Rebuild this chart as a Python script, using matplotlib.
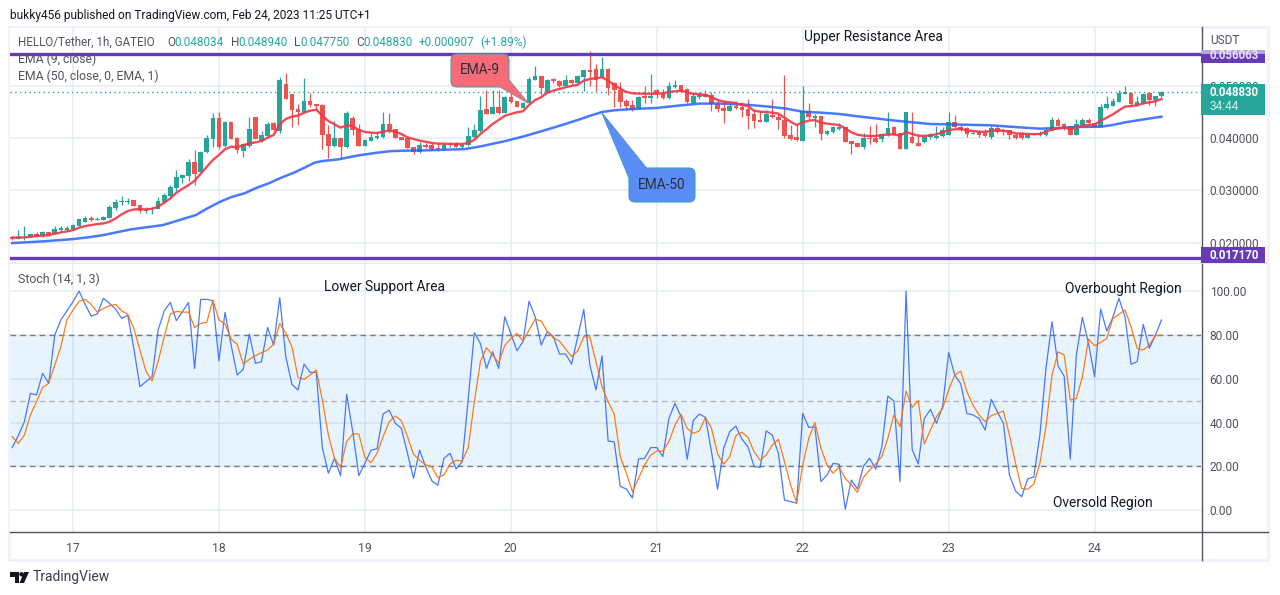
import numpy as np
import matplotlib
matplotlib.use("Agg")
import matplotlib.pyplot as plt
from matplotlib.patches import Rectangle, Polygon, FancyBboxPatch, Circle

plt.rcParams['font.family'] = ['Roboto', 'DejaVu Sans']

W, H = 1280, 595
hours = np.arange(-10, 180)
day_ticks = [0, 24, 48, 72, 96, 120, 144, 168]
day_labels = ['17', '18', '19', '20', '21', '22', '23', '24']

opens = [21.01,20.76,20.82,21.14,21.59,21.39,22.03,21.78,22.48,22.41,
 22.54,23.18,23.94,24.71,24.39,24.39,24.71,26.62,27.70,27.76,
 28.15,27.13,25.98,26.36,26.49,27.76,28.91,30.44,32.35,32.80,
 35.41,33.50,37.27,39.82,43.77,38.48,43.07,39.95,37.53,38.48,
 44.02,39.44,40.39,42.88,41.35,50.33,48.42,45.55,44.98,47.08,
 46.51,46.32,40.78,38.48,40.01,38.29,43.83,41.73,38.48,39.44,
 39.95,40.14,42.69,41.67,40.14,40.01,38.23,37.34,38.68,38.68,
 38.10,37.85,38.68,39.06,38.30,38.68,40.14,41.35,45.49,44.66,
 45.94,44.86,47.85,47.02,45.75,46.64,51.10,51.86,48.80,51.35,
 50.84,49.95,51.10,50.52,51.67,53.01,53.20,51.67,53.20,50.52,
 49.19,47.08,46.32,45.56,48.04,47.66,49.19,48.42,47.66,49.76,
 50.14,49.38,46.70,47.85,48.42,48.23,46.51,45.75,45.17,46.13,
 45.93,45.55,44.59,43.45,43.06,44.40,44.02,43.45,40.58,40.20,
 39.43,45.17,43.89,44.21,40.77,41.15,41.73,42.11,39.43,39.05,
 38.29,40.01,40.01,39.82,40.58,42.11,40.96,37.90,40.20,39.05,
 39.24,40.26,39.94,40.39,40.58,43.06,42.11,41.92,40.84,41.15,
 40.96,40.20,41.92,41.34,41.54,40.58,40.96,40.01,40.58,40.52,
 40.58,41.34,43.45,42.68,42.30,40.58,42.49,43.45,42.87,42.11,
 45.74,46.12,46.89,48.42,48.61,46.31,46.70,48.61,47.27,48.03]
highs = [21.27,22.41,23.18,21.90,22.03,22.22,22.03,23.18,23.24,23.18,
 23.50,24.50,25.09,25.09,24.96,25.09,27.19,28.27,28.91,28.59,
 28.15,27.13,26.74,26.74,28.78,29.55,31.08,33.88,33.11,35.98,
 37.72,37.59,40.58,44.79,44.92,43.26,43.26,40.20,38.99,44.02,
 44.02,41.35,43.13,43.00,51.67,52.43,48.42,46.51,51.48,48.61,
 46.51,46.51,42.49,43.26,40.01,45.17,44.21,42.69,39.75,40.90,
 41.22,44.98,44.73,41.80,40.14,40.01,38.23,39.31,39.12,38.99,
 39.31,39.12,39.31,39.19,39.12,42.18,42.69,48.04,49.19,49.19,
 49.19,48.04,48.87,47.02,46.80,51.73,53.77,51.86,51.29,51.48,
 51.10,52.05,51.29,52.05,53.01,56.64,54.15,55.49,53.39,50.72,
 50.72,47.47,47.28,48.04,49.95,52.24,49.38,49.38,50.72,51.10,
 50.14,49.57,48.80,48.80,49.19,48.80,47.28,47.28,46.64,47.15,
 46.89,47.46,45.36,45.23,45.36,47.46,44.59,52.04,42.49,42.49,
 49.94,46.69,44.59,44.21,41.54,42.30,42.87,42.11,39.43,39.24,
 40.90,42.30,42.68,40.77,44.97,42.30,40.96,44.97,44.97,40.77,
 40.77,40.90,42.30,42.11,44.98,44.40,42.49,42.11,41.54,41.54,
 41.73,42.30,42.30,41.73,41.54,40.96,41.15,40.96,40.84,41.34,
 42.11,44.02,43.83,42.87,42.30,43.64,43.83,43.83,42.87,46.50,
 48.03,47.65,49.18,49.94,48.80,48.03,48.61,48.61,48.03,48.94]
lows = [20.50,20.63,20.50,21.01,21.01,21.14,21.27,21.65,22.22,22.29,
 22.41,23.10,23.88,24.20,24.32,24.26,24.64,26.23,27.25,27.32,
 27.06,25.73,25.73,25.47,26.36,27.64,28.78,29.93,31.46,31.84,
 31.01,33.30,37.08,38.36,37.91,38.36,39.82,37.08,36.38,38.36,
 39.82,39.31,40.27,41.41,40.97,47.46,42.11,42.49,44.72,46.00,
 45.36,37.91,36.13,38.23,36.13,38.04,40.58,38.48,38.40,39.37,
 39.76,39.95,40.91,40.01,39.63,38.10,36.96,37.21,38.04,37.72,
 37.59,37.72,38.36,38.23,38.10,38.49,40.01,41.23,44.54,44.54,
 44.60,44.73,46.64,45.87,45.70,46.51,51.10,48.23,48.68,50.59,
 49.70,49.95,50.33,50.46,49.06,49.95,48.93,51.48,48.23,45.94,
 45.94,45.36,45.24,45.49,46.77,46.77,47.66,47.40,47.53,49.50,
 48.87,46.70,46.64,47.47,47.79,45.17,44.98,42.88,45.11,45.62,
 44.08,41.73,41.92,43.00,43.00,43.89,41.73,40.01,39.62,39.50,
 39.43,43.64,42.11,39.62,40.58,40.96,41.60,39.24,36.95,38.29,
 37.90,38.86,39.11,39.24,40.39,40.52,37.90,37.90,38.99,38.48,
 39.05,39.90,39.82,40.26,40.52,41.98,41.35,40.20,40.77,40.20,
 40.20,39.82,40.96,40.58,39.82,39.82,39.82,39.94,40.52,40.45,
 40.45,41.28,42.24,41.54,40.58,40.52,42.36,42.68,42.11,42.11,
 45.55,46.06,46.82,48.42,46.19,46.19,46.57,46.31,46.12,47.75]
closes = [20.76,21.01,20.89,21.65,21.27,22.03,21.39,22.60,22.86,22.86,
 23.37,24.45,24.71,24.32,24.52,24.90,26.81,27.76,27.95,27.95,
 27.06,25.98,26.36,26.49,27.95,29.10,30.63,32.54,32.92,35.41,
 33.11,37.34,40.01,43.77,38.36,43.07,39.82,37.78,38.80,41.73,
 39.82,40.58,42.75,41.54,51.09,47.46,45.42,44.98,47.08,46.32,
 46.19,40.58,38.48,40.01,38.29,44.79,41.54,38.48,39.63,40.20,
 40.39,42.69,41.54,40.01,39.63,38.10,37.34,38.68,38.30,37.85,
 37.85,38.87,38.87,38.36,38.68,40.40,41.54,45.36,44.66,45.94,
 44.79,47.85,46.89,45.87,46.70,51.29,51.86,49.51,51.10,50.91,
 49.95,51.10,50.46,51.86,53.01,52.63,51.10,53.20,49.57,49.19,
 46.89,46.13,45.36,47.85,47.66,48.04,48.42,47.66,49.95,50.14,
 48.99,46.89,48.04,48.23,47.91,46.51,45.56,45.17,46.13,45.75,
 45.36,44.21,43.25,43.06,44.59,44.02,43.45,40.39,39.82,39.62,
 45.17,44.02,44.21,40.77,41.34,42.11,42.11,39.24,38.86,38.29,
 40.01,39.82,39.24,40.77,41.92,40.58,37.90,44.97,39.05,38.48,
 40.20,40.77,40.39,41.54,43.06,42.11,41.54,40.77,40.96,40.58,
 40.39,41.92,41.15,41.15,40.58,40.01,40.01,40.58,40.77,40.77,
 41.54,43.45,42.30,41.98,40.58,42.68,43.45,42.87,42.11,45.93,
 46.50,47.08,48.61,48.80,46.50,46.89,48.42,47.27,48.03,48.83]

ema9 = [20.95,21.01,21.01,21.14,21.27,21.33,21.46,21.71,21.97,22.16,
 22.41,22.86,23.18,23.37,23.56,23.69,24.01,24.64,25.41,26.04,
 26.36,26.43,26.36,26.49,26.87,27.64,28.46,29.55,30.31,31.01,
 31.84,33.20,34.50,35.80,36.76,37.85,38.36,38.23,38.61,38.99,
 39.18,39.44,40.07,40.58,42.62,43.64,44.09,44.28,44.85,45.23,
 45.42,44.28,43.26,42.62,41.99,42.43,42.30,41.54,41.16,41.03,
 40.97,41.22,41.42,41.22,40.78,40.14,39.82,39.50,39.30,39.06,
 38.93,38.93,38.87,38.87,38.87,39.06,39.63,40.78,41.67,42.69,
 43.45,44.22,44.60,44.92,45.11,46.32,47.28,47.79,48.68,49.06,
 49.38,49.70,49.95,50.20,50.97,51.29,51.42,51.61,50.97,50.14,
 49.44,48.80,48.55,48.49,48.49,48.42,48.49,48.55,48.80,48.93,
 49.06,48.74,48.42,48.36,48.23,47.79,47.28,46.96,46.83,46.70,
 46.32,46.13,45.23,45.04,44.97,44.85,44.66,43.89,43.13,42.49,
 43.00,43.32,43.45,42.94,42.75,42.62,42.49,41.85,41.09,40.64,
 40.45,40.39,40.39,40.58,40.64,40.71,40.45,41.15,40.77,40.45,
 40.39,40.52,40.71,41.09,41.54,41.66,41.73,41.47,41.34,41.22,
 41.15,41.41,41.47,41.41,41.22,40.90,40.84,40.77,40.77,40.77,
 41.22,41.66,41.85,41.98,41.73,41.98,42.36,42.49,42.55,43.32,
 43.89,44.53,45.29,46.00,46.12,46.25,46.63,46.82,47.01,47.46]

ema50_hours = [-10,-5,0,3,5,9.5,14.8,18,20.2,22,24.2,26,28.3,30,32.3,34,36.3,38,39.7,41,43.7,45,47,50,52.4,55,57.8,60,64.5,67,68.6,71,73.9,76,78.6,81,83.4,85,87,89,92,96,100,103,106,110,114,117,120,123,126,129,132,135,137,141,144,151,155,159,162,165,169,171,173,176,179]
ema50_vals = [19.93,20.25,20.69,21.10,21.46,22.54,23.37,24.50,25.28,26.50,27.82,28.70,29.48,30.40,31.40,32.30,33.37,34.30,35.28,35.60,35.93,36.25,36.69,37.20,37.51,37.60,37.64,37.72,37.90,38.40,38.80,39.40,40.25,40.95,41.85,42.70,43.60,44.25,44.98,45.30,45.55,45.75,46.25,46.58,46.60,46.44,46.05,45.67,45.04,44.85,44.60,44.15,43.76,43.35,43.13,42.68,42.62,42.43,42.10,41.79,41.90,42.11,42.17,42.50,43.00,43.55,44.08]

stoch_k = [28.6,34.0,40.4,53.3,52.6,62.5,57.9,79.9,86.8,91.0,
 95.1,100.0,93.9,88.6,89.5,96.7,94.4,91.8,87.5,89.0,
 73.9,56.4,58.7,60.9,82.2,91.0,94.8,86.5,90.6,94.8,
 64.7,96.2,96.2,95.6,68.2,90.3,75.4,61.7,64.3,80.4,
 67.0,67.8,83.4,75.4,97.0,70.0,57.4,54.9,66.7,62.9,
 62.9,28.6,16.9,23.7,15.8,52.9,35.9,15.8,21.4,27.4,
 28.1,43.9,45.7,39.7,37.4,26.0,14.6,27.4,19.9,13.5,
 11.4,23.7,26.0,18.8,22.2,51.0,81.0,76.1,64.7,72.3,
 64.7,88.3,80.7,72.8,76.9,95.4,88.3,75.4,81.5,79.2,
 71.3,71.3,66.7,79.2,91.6,66.3,54.9,70.4,31.6,31.2,
 10.9,9.7,5.6,23.4,23.7,28.6,28.6,24.5,41.9,48.8,
 42.7,23.3,40.9,43.9,42.4,26.7,9.6,28.3,35.9,38.4,
 32.5,29.0,19.9,19.6,36.2,34.3,26.0,4.7,4.0,3.2,
 44.2,37.8,38.1,13.1,16.1,21.4,21.0,0.5,13.8,9.7,
 20.2,23.7,18.8,28.7,52.1,49.8,13.1,100.0,27.8,21.1,
 41.9,46.0,39.7,47.3,72.0,61.7,57.6,44.2,43.5,41.9,
 36.6,50.6,45.0,39.7,16.1,8.8,6.2,14.3,15.2,34.3,
 64.7,86.0,65.8,61.2,23.3,70.8,88.0,76.1,60.9,91.8,
 81.8,88.0,96.7,88.3,66.6,67.8,84.8,73.9,79.9,86.8]
stoch_d = [33.6,30.5,34.3,43.5,49.5,56.1,57.9,66.3,74.6,86.8,
 91.3,95.4,96.2,93.9,90.3,92.1,93.3,93.9,91.0,89.4,
 83.0,73.1,63.5,59.0,67.8,79.2,89.5,90.7,90.4,90.4,
 83.4,85.3,85.7,95.9,86.8,85.0,78.1,75.7,66.7,68.8,
 70.5,71.9,73.1,75.8,85.3,80.7,74.6,60.6,59.7,61.7,
 64.0,50.3,34.3,23.7,19.6,31.3,34.8,34.8,24.2,21.7,
 26.0,33.6,40.4,43.0,40.9,33.6,25.5,22.9,20.7,19.9,
 14.9,16.1,21.1,22.8,22.5,28.6,49.5,67.8,74.2,70.8,
 67.3,75.1,78.4,80.7,77.2,82.2,87.2,86.3,81.5,78.7,
 77.2,73.6,70.1,72.6,79.2,78.9,67.8,56.4,49.5,43.9,
 24.5,16.9,8.5,14.6,20.7,25.2,27.0,27.0,31.3,38.9,
 43.8,37.4,35.1,36.2,42.4,37.4,25.7,21.0,24.5,34.0,
 35.6,33.3,26.7,22.9,25.2,29.8,32.4,22.2,11.6,3.5,
 20.7,32.8,40.1,28.3,20.7,16.9,19.6,14.6,11.6,8.2,
 15.0,18.4,21.1,24.5,32.8,43.5,38.1,54.4,47.0,50.0,
 30.2,36.6,42.7,46.5,54.9,61.7,63.5,54.1,48.0,43.5,
 40.4,43.2,44.2,45.3,34.3,21.4,10.0,9.6,12.0,21.4,
 38.1,61.7,72.3,70.8,50.3,51.0,60.9,78.1,75.1,76.6,
 78.4,87.5,89.4,91.3,83.7,73.9,73.1,75.4,79.6,79.9]

price_ticks = [20, 30, 40, 50]
stoch_ticks = [0, 20, 40, 60, 80, 100]
resistance = 56.063
support = 17.170
last_price = 48.830

UP, DOWN = '#26A69A', '#EF5350'
GRID = '#E6ECF2'
TXT = '#50535E'
PURPLE = '#673AB7'
RED_LINE, BLUE_LINE = '#F23645', '#2962FF'


def fx(x):
    return x / W


def fy(y):
    return 1 - y / H


def pane(x0, x1, y0, y1):
    return fig.add_axes([fx(x0), fy(y1), (x1 - x0) / W, (y1 - y0) / H])


fig = plt.figure(figsize=(W / 100, H / 100), dpi=100, facecolor='white')

# chart frame
fig.add_artist(Rectangle((fx(9), fy(560)), 1259 / W, 533 / H, transform=fig.transFigure,
                         fc='none', ec='#F0F3FA', lw=2.2, zorder=-1))

ax = pane(10, 1201, 28, 263)
ax2 = pane(10, 1201, 263, 532)
xlim = (-10.36, 185.5)

# ---- price pane
ax.set_xlim(*xlim)
ax.set_ylim(16.12, 61.03)
ax.set_yticks(price_ticks)
ax.set_yticklabels(['%.6f' % (t / 1000) for t in price_ticks], fontsize=8.6, color=TXT)
ax.yaxis.tick_right()
ax.tick_params(axis='y', length=0, pad=6.2)
ax.set_xticks(day_ticks)
ax.tick_params(axis='x', length=0, labelbottom=False)
ax.grid(True, color=GRID, lw=1.1)
ax.set_axisbelow(True)
for s in ax.spines.values():
    s.set_visible(False)

o, h, l, c = map(np.array, (opens, highs, lows, closes))
cols = [UP if ci >= oi else DOWN for oi, ci in zip(o, c)]
ax.vlines(hours, l, h, colors=cols, lw=0.9, zorder=3)
ax.bar(hours, np.maximum(np.abs(c - o), 0.08), bottom=np.minimum(o, c), width=0.76,
       color=cols, lw=0, zorder=3)
ax.plot(ema50_hours, ema50_vals, color=BLUE_LINE, lw=1.8, alpha=0.85, zorder=4)
ax.plot(hours, ema9, color=RED_LINE, lw=1.7, alpha=0.9, zorder=5)
ax.axhline(last_price, color=UP, lw=1, ls=(0, (1, 2.4)), zorder=2)
ax.axhline(resistance, color=PURPLE, lw=2.4, zorder=6)
ax.axhline(support, color=PURPLE, lw=2.4, zorder=6)

# ---- stochastic pane
ax2.set_xlim(*xlim)
ax2.set_ylim(-9.9, 112.8)
ax2.set_yticks(stoch_ticks)
ax2.set_yticklabels(['%.2f' % t for t in stoch_ticks], fontsize=8.6, color=TXT)
ax2.yaxis.tick_right()
ax2.tick_params(axis='y', length=0, pad=6.2)
ax2.set_xticks(day_ticks)
ax2.set_xticklabels(day_labels, fontsize=8.8, color=TXT)
ax2.tick_params(axis='x', length=0, pad=7)
ax2.grid(True, color=GRID, lw=1.1)
ax2.set_axisbelow(True)
ax2.axhspan(20, 80, color='#2196F3', alpha=0.1, lw=0, zorder=1)
for s in ax2.spines.values():
    s.set_visible(False)
ax2.axhline(80, color='#787B86', lw=1, ls=(0, (4, 3)), zorder=2)
ax2.axhline(20, color='#787B86', lw=1, ls=(0, (4, 3)), zorder=2)
ax2.axhline(50, color='#B2B5BE', lw=1, ls=(0, (4, 3)), zorder=2)
ax2.plot(hours, stoch_k, color='#2962FF', lw=0.9, alpha=0.85, zorder=3)
ax2.plot(hours, stoch_d, color='#FF6D00', lw=0.9, alpha=0.9, zorder=4)

# axis lines
fig.add_artist(plt.Line2D([fx(1201.5)] * 2, [fy(27), fy(560)], color=TXT, lw=1, zorder=3))
fig.add_artist(plt.Line2D([fx(10), fx(1268)], [fy(532)] * 2, color=TXT, lw=1, zorder=3))
fig.add_artist(plt.Line2D([fx(10), fx(1268)], [fy(263)] * 2, color='#E6E9EF', lw=1.2, zorder=3))


def label_box(x0, y0, x1, y1, color, z=5):
    fig.add_artist(Rectangle((fx(x0), fy(y1)), (x1 - x0) / W, (y1 - y0) / H,
                             transform=fig.transFigure, fc=color, ec='none', zorder=z))


def txt(x, y, s, color='#000000', size=8.6, ha='left', z=8, **kw):
    fig.text(fx(x), fy(y), s, color=color, fontsize=size, ha=ha, va='center', zorder=z, **kw)


# right labels
label_box(1201, 50, 1265, 54, '#B9A5DD')
label_box(1201, 54, 1265, 63, PURPLE)
txt(1210, 55.5, '0.056063', '#E9E2F5', 8.3, weight='bold')
label_box(1201, 84, 1265, 115, UP)
txt(1210, 93, '0.048830', 'white', 8.3, weight='bold')
txt(1210, 107, '34:44', '#D5F0EC', 8.6)
label_box(1201, 247, 1265, 263, PURPLE)
txt(1210, 255.5, '0.017170', 'white', 8.3, weight='bold')
txt(1210, 41, 'USDT', TXT, 8.6)

# header and legend
txt(10, 15, 'bukky456 published on TradingView.com, Feb 24, 2023 11:25 UTC+1', '#131722', 8.6)
txt(18, 42, 'HELLO/Tether, 1h, GATEIO', '#50535E', 8.4)
for x, s, col in [(167, 'O', '#50535E'), (174, '0.048034', UP), (231, 'H', '#50535E'), (238, '0.048940', UP),
                  (294, 'L', '#50535E'), (300, '0.047750', UP), (356, 'C', '#50535E'), (363, '0.048830', UP),
                  (419, '+0.000907', UP), (480, '(+1.89%)', UP)]:
    txt(x, 42, s, col, 8.5)
txt(18, 59, 'EMA (9, close)', '#50535E', 8.8)
txt(18, 76, 'EMA (50, close, 0, EMA, 1)', '#50535E', 8.8)
txt(18, 279, 'Stoch (14, 1, 3)', '#50535E', 8.9)

# region notes
txt(804, 37, 'Upper Resistance Area', '#131722', 9.9)
txt(324, 287, 'Lower Support Area', '#131722', 9.9)
txt(1065, 289, 'Overbought Region', '#131722', 9.9)
txt(1053, 503, 'Oversold Region', '#131722', 9.9)


def pts(seq):
    return [(fx(a), fy(b)) for a, b in seq]


def callout(x0, y0, x1, y1, tip, base, fc, ec, label):
    fig.add_artist(Polygon(pts([tip] + base), closed=True, transform=fig.transFigure,
                           fc=fc, ec=ec, lw=0.8, zorder=6))
    fig.add_artist(FancyBboxPatch((x0 + 5, H - y1 + 5), x1 - x0 - 10, y1 - y0 - 10,
                                  boxstyle='round,pad=5,rounding_size=6',
                                  transform=None, fc=fc, ec=ec, lw=0.8, zorder=6))
    fig.add_artist(Polygon(pts([tip] + base), closed=True, transform=fig.transFigure,
                           fc=fc, ec='none', zorder=6))
    txt((x0 + x1) / 2, (y0 + y1) / 2, label, '#2A2E39', 9.9, ha='center')


callout(451, 54, 509, 87, (528, 103), [(495, 84), (509, 80)], '#F56C78', '#4E9FA8', 'EMA-9')
callout(629, 168, 695, 202, (602, 113), [(629, 178), (648, 170)], '#5B8DF6', '#3FA0B0', 'EMA-50')

# TradingView mark
logo = '#131722'
fig.add_artist(Polygon(pts([(10, 572), (19, 572), (19, 583), (14.5, 583), (14.5, 576.5), (10, 576.5)]),
                       closed=True, transform=fig.transFigure, fc=logo, ec='none'))
fig.add_artist(Circle((21.5, H - 574.3), 2.2, transform=None, fc=logo, ec='none'))
fig.add_artist(Polygon(pts([(24, 572), (29, 572), (24, 583), (19.5, 583)]),
                       closed=True, transform=fig.transFigure, fc=logo, ec='none'))
txt(33, 577, 'TradingView', '#3A3E49', 10)

fig.savefig('out.png', dpi=100, facecolor='white')
